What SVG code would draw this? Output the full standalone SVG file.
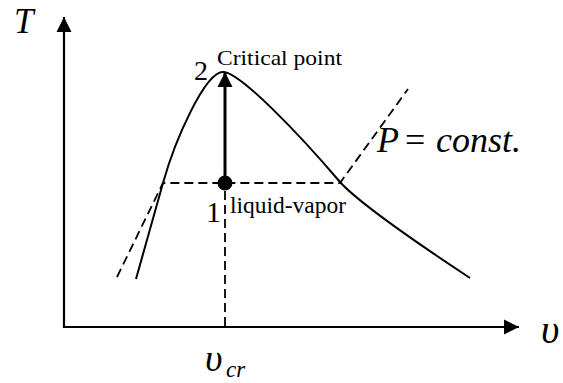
<svg xmlns="http://www.w3.org/2000/svg" width="563" height="383" viewBox="0 0 563 383">
<defs>
<marker id="arr" markerUnits="userSpaceOnUse" markerWidth="16" markerHeight="16" viewBox="0 0 16 16" refX="15" refY="8" orient="auto">
<path d="M0,0.5 L15,8 L0,15.5 Z" fill="#000"/>
</marker>
<style>
.ax{stroke:#000;stroke-width:2.2;fill:none}
.cv{stroke:#000;stroke-width:2;fill:none}
.ds{stroke:#000;stroke-width:1.8;fill:none;stroke-dasharray:9 5}
</style>
</defs>
<g id="axes">
<line class="ax" x1="64" y1="328" x2="64" y2="17" marker-end="url(#arr)"/>
<line class="ax" x1="63" y1="327" x2="519" y2="327" marker-end="url(#arr)"/>
</g>
<g id="saturation-dome">
<path class="cv" d="M136,279 C145,247 154,215 163,183 C175,140 205,72 223,72 C240,72 300,135 340,182 C360,204 420,245 470,278"/>
</g>
<g id="connectors">
<path class="ds" d="M117,277 L163,183 L340,183 L408,89"/>
<line class="ds" x1="225" y1="191" x2="225" y2="327" stroke-width="2"/>
<line stroke="#000" stroke-width="3" x1="225" y1="183" x2="225" y2="72" marker-end="url(#arr)"/>
</g>
<g font-family="'Liberation Serif', 'Times New Roman', 'DejaVu Serif', serif" fill="#000">
<g id="point1">
<circle cx="225" cy="183" r="7.5" fill="#000"/>
<text x="206" y="222" font-size="30">1</text>
<text x="230" y="213" font-size="23" textLength="116" lengthAdjust="spacingAndGlyphs">liquid-vapor</text>
</g>
<g id="point2">
<text x="194" y="80" font-size="28">2</text>
<text x="217" y="65" font-size="22" textLength="125" lengthAdjust="spacingAndGlyphs">Critical point</text>
</g>
<g id="labels" font-style="italic">
<text x="14" y="33" font-size="35">T</text>
<text x="541" y="343" font-size="40">υ</text>
<text x="205" y="371" font-size="38">υ</text>
<text x="226" y="377" font-size="23">cr</text>
<text x="377" y="152" font-size="36">P</text>
<text x="405" y="152" font-size="36" font-style="normal">=</text>
<text x="436" y="152" font-size="36">const.</text>
</g>
</g>
</svg>
